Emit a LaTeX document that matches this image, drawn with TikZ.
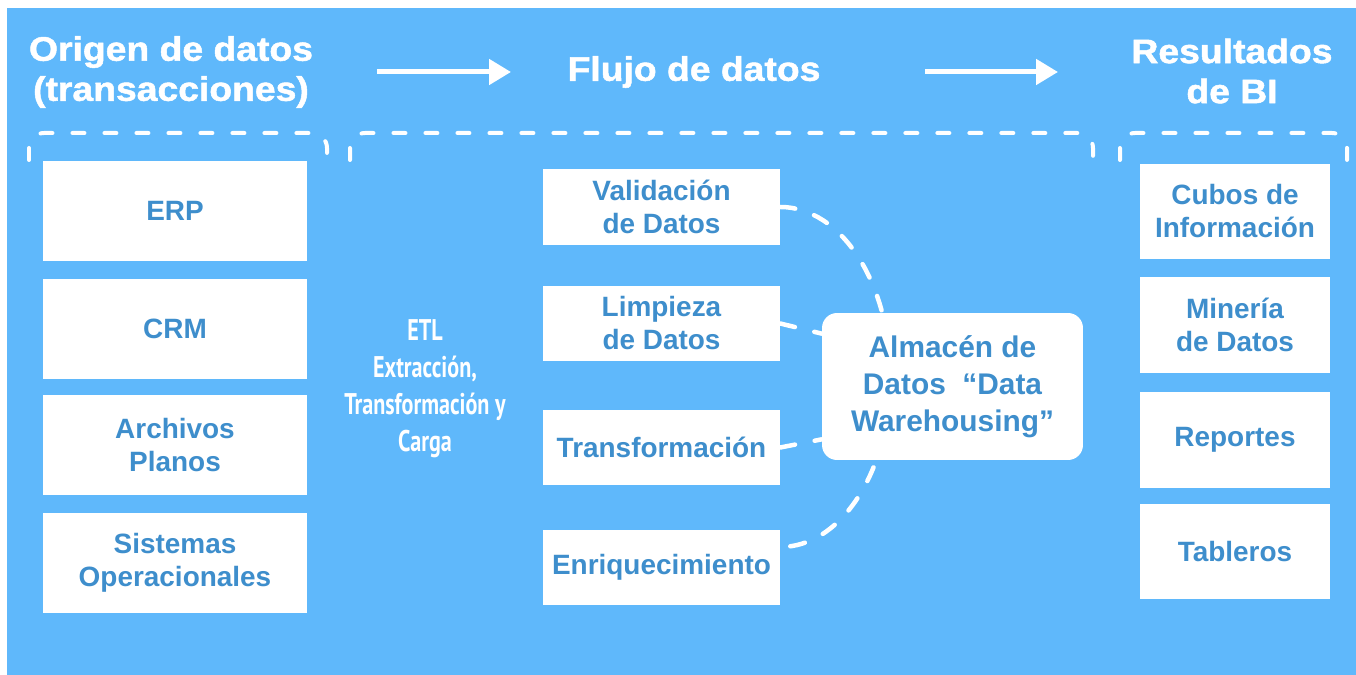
\documentclass[tikz,border=0pt]{standalone}
\usepackage{fontspec}
\setmainfont{Liberation Sans}
\newfontfamily\headfont{Liberation Sans}[FakeStretch=1.1,FakeBold=1.5]
\newfontfamily\condfont{PT Sans}[FakeStretch=0.74]
\usetikzlibrary{arrows.meta,calc}
\definecolor{bgblue}{HTML}{5FB8FB}
\definecolor{txtblue}{HTML}{3E8ECC}

\tikzset{
  boxtext/.style={text=txtblue, font=\fontsize{15.9pt}{18.8pt}\selectfont\bfseries, align=center},
  srcbox/.style={boxtext, fill=white, minimum width=5.28cm, minimum height=2.02cm},
  procbox/.style={boxtext, fill=white, minimum width=4.74cm, minimum height=1.52cm},
  resbox/.style={boxtext, fill=white, minimum width=3.8cm, minimum height=1.92cm},
  storebox/.style={text=txtblue, font=\fontsize{17pt}{21pt}\selectfont\bfseries, align=center,
    fill=white, rounded corners=0.3cm, minimum width=5.22cm, minimum height=2.94cm},
  headtext/.style={text=white, font=\headfont\fontsize{19.3pt}{22.8pt}\selectfont\bfseries, align=center},
  etltext/.style={text=white, font=\condfont\fontsize{17pt}{21pt}\selectfont\bfseries, align=center},
  flowarrow/.style={draw=white, line width=0.1cm, -{Triangle[length=0.44cm,width=0.5cm]}},
  bracket/.style={draw=white, line width=0.08cm, line cap=round,
    dash pattern=on 0.24cm off 0.4cm, rounded corners=0.3cm},
  link/.style={draw=white, line width=0.09cm, line cap=round,
    dash pattern=on 0.3cm off 0.4cm},
}

\begin{document}
\begin{tikzpicture}[x=0.02cm,y=-0.02cm, every node/.style={inner sep=0pt}]
  \useasboundingbox (0,0) rectangle (1356,675);
  \fill[bgblue] (7,8) rectangle (1356,675);

  % column headings and flow arrows
  \node[headtext] (hsrc) at (171,72) {Origen de datos\\(transacciones)};
  \node[headtext] (hflow) at (694,72) {Flujo de datos};
  \node[headtext] (hres) at (1232,71) {Resultados\\de BI};
  \coordinate (a1s) at (377,72);
  \coordinate (a1e) at (511,72);
  \coordinate (a2s) at (925,72);
  \coordinate (a2e) at (1058,72);
  \draw[flowarrow] (a1s) -- (a1e);
  \draw[flowarrow] (a2s) -- (a2e);

  % dashed group brackets
  \draw[bracket] (29,160) |- (327,133) -- (327,160);
  \draw[bracket] (350,160) |- (1093,133) -- (1093,160);
  \draw[bracket] (1120,160) |- (1347,133) -- (1347,160);

  % data sources
  \node[srcbox] (erp) at (175,211) {ERP};
  \node[srcbox] (crm) at (175,329) {CRM};
  \node[srcbox] (arch) at (175,445) {Archivos\\Planos};
  \node[srcbox] (sist) at (175,563) {Sistemas\\Operacionales};

  % ETL label
  \node[etltext] (etl) at (425,389) {ETL\\Extracción,\\Transformación y\\Carga};

  % processing steps
  \node[procbox] (val) at (661.5,207) {Validación\\de Datos};
  \node[procbox] (lim) at (661.5,323.5) {Limpieza\\de Datos};
  \node[procbox] (tra) at (661.5,447.5) {Transformación};
  \node[procbox] (enr) at (661.5,567.5) {Enriquecimiento};

  % curved link behind the warehouse box
  \draw[link] (val.east) arc[start angle=-90, end angle=90, x radius=110, y radius=170];

  % data warehouse
  \node[storebox] (wh) at (952.5,386.5) {Almacén de\\Datos~~“Data\\Warehousing”};
  \draw[link] (lim.east) -- (wh.158);
  \draw[link] (tra.east) -- (wh.202);

  % BI results
  \node[resbox] (cub) at (1235,211.5) {Cubos de\\Información};
  \node[resbox] (min) at (1235,325) {Minería\\de Datos};
  \node[resbox] (rep) at (1235,440) {Reportes};
  \node[resbox] (tab) at (1235,551.5) {Tableros};
\end{tikzpicture}
\end{document}
